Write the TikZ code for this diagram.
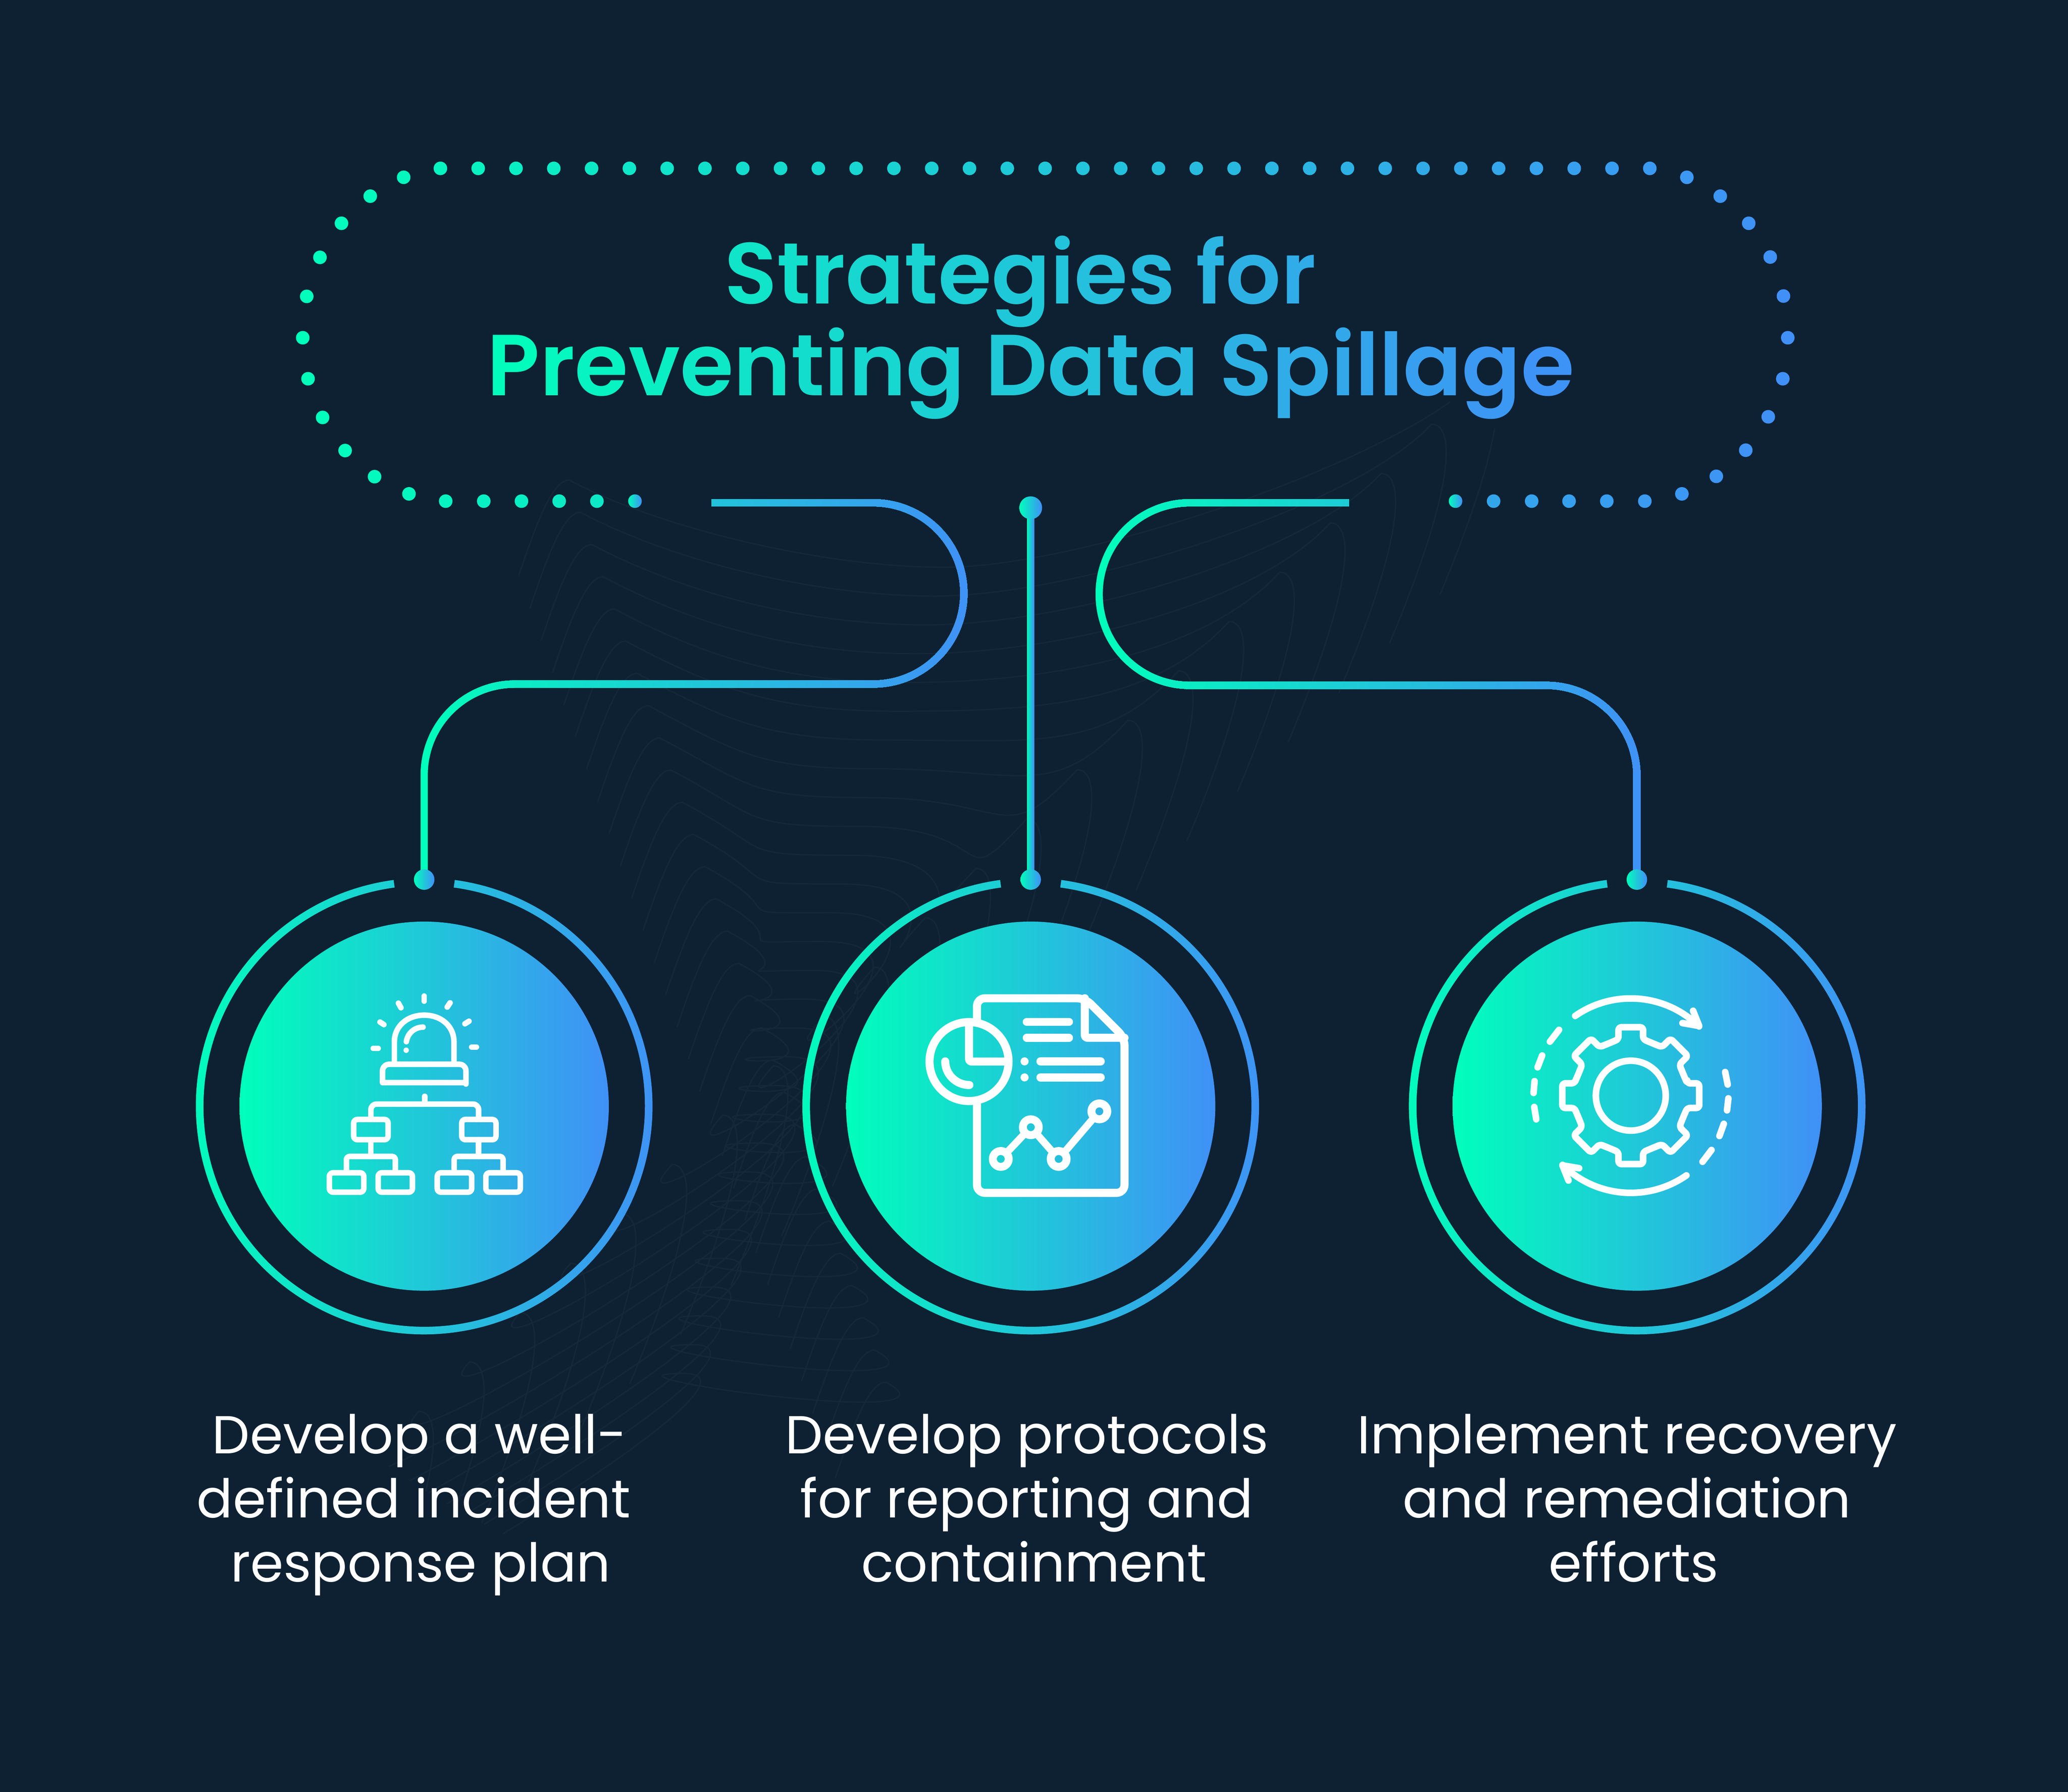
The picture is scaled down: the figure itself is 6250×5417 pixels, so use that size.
\documentclass[tikz,border=0pt]{standalone}
\usepackage{fontspec}
\setmainfont{Poppins}
\newfontfamily\popsb{Poppins SemiBold}
\usetikzlibrary{shapes.geometric}
\definecolor{bgc}{RGB}{14,33,50}
\definecolor{faint}{RGB}{21,40,57}
\definecolor{gA}{RGB}{0,255,187}
\definecolor{gB}{RGB}{64,144,247}
\makeatletter
\newdimen\gpos \newbox\gbA \newbox\gbB \newbox\gbC
\def\gradline#1#2#3{\setbox\gbA\hbox{#3}\edef\gtot{\strip@pt\wd\gbA}\def\tA{#1}\def\tB{#2}\gpos=0pt \gl@#3\@nil\@nil}
\def\gl@#1#2{%
  \ifx#1\@nil\let\gl@next\relax\else
    \setbox\gbA\hbox{#1}%
    \dimen@=\gpos \advance\dimen@ .5\wd\gbA
    \edef\gcur{\strip@pt\dimen@}%
    \pgfmathsetmacro\gpw{100*(\tA+(\tB-\tA)*\gcur/\gtot)}%
    \textcolor{gB!\gpw!gA}{#1}%
    \advance\gpos\wd\gbA
    \ifx#2\@nil\else
      \setbox\gbB\hbox{#2}\setbox\gbC\hbox{#1#2}%
      \dimen@=\wd\gbC \advance\dimen@-\wd\gbA \advance\dimen@-\wd\gbB
      \kern\dimen@ \advance\gpos\dimen@
    \fi
    \def\gl@next{\gl@#2}%
  \fi\gl@next}
\makeatother
% gradient stroke: #1 = left limit, #2 = right limit, #3 = path
\newcommand\gradstroke[3]{%
  \foreach \i in {0,...,64}{%
    \pgfmathsetmacro\xa{\i==0 ? 0 : #1+(#2-#1)/64*\i}%
    \pgfmathsetmacro\pw{100*\i/64}%
    \begin{scope}
      \clip (\xa,0) rectangle (6250,5417);
      \draw[conn,draw=gB!\pw!gA] #3;
    \end{scope}
  }}
\tikzset{
  conn/.style={line width=2.2pt,rounded corners=27.4pt},
  gshade/.style={left color=gA,right color=gB},
  dot/.style={circle,inner sep=0pt,minimum size=4.1pt,draw=none},
  enddot/.style={dot,gshade},
  pin/.style={circle,inner sep=0pt,minimum size=6.2pt,draw=none,gshade},
  disc/.style={circle,inner sep=0pt,minimum size=111.6pt,draw=none,gshade},
  bodytext/.style={text=white,align=center,anchor=base,font=\fontsize{16.15}{19.4}\selectfont},
  icon/.style={draw=white,line cap=round,line join=round},
  faintline/.style={draw=faint,line width=0.4pt},
}
\newcommand\ringat[1]{%
  \begin{scope}[shift={(#1)}]
  \path[gshade,shade] (-97.7:690) arc[start angle=-97.7,end angle=-442.3,radius=690]
    -- (-442.3:667) arc[start angle=-442.3,end angle=-97.7,radius=667] -- cycle;
  \end{scope}}
\begin{document}
\begin{tikzpicture}[x=0.1pt,y=-0.1pt]
\useasboundingbox (0,0) rectangle (6250,5417);
\fill[bgc] (0,0) rectangle (6250,5417);
% faint contour lines
\begin{scope}
\clip (2900,2900) ellipse [x radius=2600, y radius=2050];
\begin{scope}[shift={(1100,1400)},x=0.2551pt,y=-0.0829pt]
\foreach \k in {-2,...,26}{
  \pgfmathsetmacro\lx{270+13.4*\k}\pgfmathsetmacro\ly{297+117.5*\k}
  \pgfmathsetmacro\vx{665-11*\k}\pgfmathsetmacro\vy{590+105*\k}
  \pgfmathsetmacro\rx{1205-60*\k}\pgfmathsetmacro\ry{38+180*\k}
  \draw[faintline] (\lx-60,\ly+350) .. controls (\lx-35,\ly+120) and (\lx-18,\ly) .. (\lx,\ly)
     .. controls (\lx+110,\ly+180) and (\vx-140,\vy) .. (\vx,\vy)
     .. controls (\vx+170,\vy) and (\rx-90,\ry+300) .. (\rx,\ry)
     .. controls (\rx+26,\ry) and (\rx+32,\ry+200) .. (\rx-50,\ry+800);
}
\end{scope}
\end{scope}
% dotted title frame
\foreach \i in {0,...,32}{
  \pgfmathsetmacro\x{1331+114.22*\i}
  \pgfmathsetmacro\pw{(\x-915)/44.88}
  \node[dot,fill=gB!\pw!gA] (top\i) at (\x,509) {};
}
\foreach \x/\y [count=\n] in {1220/536,1119/593,1032/675,967/778,927/896,915/1021,931/1145,975/1262,1043/1362,1132/1441,1236/1493,1347/1515,1462/1515,1576/1515,1690/1515,1804/1515,
  4514/1515,4629/1515,4742/1515,4856/1515,4971/1515,5083/1493,5187/1440,5276/1361,5344/1260,5388/1145,5403/1021,5390/895,5350/777,5285/675,5199/593,5098/536}{
  \pgfmathsetmacro\pw{(\x-915)/44.88}
  \node[dot,fill=gB!\pw!gA] (fr\n) at (\x,\y) {};
}
\node[enddot] (endL) at (1919,1515) {};
\node[enddot] (endR) at (4399,1515) {};
% title
\node[align=center,anchor=base,font=\popsb\fontsize{26.2}{27.7}\selectfont] (title) at (3115,1195)
  {\gradline{0.218}{0.764}{Strategies~for}\kern6.4pt\\\gradline{0}{1}{Preventing~Data~Spillage}};
% connector anchors
\coordinate (lstart) at (2151,1520);
\coordinate (l1) at (2913,1520);
\coordinate (l2) at (2913,2068);
\coordinate (l3) at (1282,2068);
\coordinate (rstart) at (4077,1520);
\coordinate (r1) at (3322,1520);
\coordinate (r2) at (3322,2072);
\coordinate (r3) at (4947,2072);
\coordinate (pinAc) at (1282,2659);
\coordinate (pinBc) at (3115,2659);
\coordinate (pinCc) at (4947,2659);
\coordinate (pinTc) at (3115,1535);
\gradstroke{1271}{2924}{(lstart) -- (l1) -- (l2) -- (l3) -- (pinAc)}
\gradstroke{3104}{3126}{(pinTc) -- (pinBc)}
\gradstroke{3311}{4958}{(rstart) -- (r1) -- (r2) -- (r3) -- (pinCc)}
\node[pin,minimum size=6.9pt] (pinT) at (pinTc) {};
\node[pin] (pinA) at (pinAc) {};
\node[pin] (pinB) at (pinBc) {};
\node[pin] (pinC) at (pinCc) {};
% rings and discs
\coordinate (cA) at (1282,3344);
\coordinate (cB) at (3115,3344);
\coordinate (cC) at (4948,3344);
\ringat{cA}\ringat{cB}\ringat{cC}
\node[disc] (discA) at (cA) {};
\node[disc] (discB) at (cB) {};
\node[disc] (discC) at (cC) {};
% icon 1
\begin{scope}[shift={(900,2900)},x=0.05102pt,y=-0.05102pt,icon,line width=1.68pt]
\draw (749,218)--(749,248);
\draw (596,260)--(611,287);
\draw (902,258)--(885,283);
\draw (487,372)--(510,387);
\draw (1014,367)--(990,382);
\draw (447,528)--(476,528);
\draw (1030,520)--(1058,520);
\draw (572,620)--(572,490) .. controls (572,395) and (650,331) .. (749,331) .. controls (848,331) and (925,395) .. (925,490) -- (925,620);
\draw (643,488) .. controls (650,440) and (690,402) .. (742,402);
\fill[white] (642,539) circle[radius=16];
\draw[rounded corners=2pt] (502,700)--(502,622)--(996,622)--(996,700)[sharp corners]--(996,731)--(502,731)--cycle;
\draw (752,812)--(752,858);
\draw[rounded corners=1.7pt] (433,948)--(433,858)--(1071,858)--(1071,948);
\foreach \xa/\xb/\ya/\yb in {331/535/949/1069,971/1174/949/1069,187/391/1265/1380,476/679/1265/1380,826/1030/1265/1380,1114/1318/1265/1380}
  \draw[rounded corners=1.1pt] (\xa,\ya) rectangle (\xb,\yb);
\draw (433,1069)--(433,1168);
\draw (1071,1069)--(1071,1168);
\draw[rounded corners=1pt] (288,1265)--(288,1168)--(578,1168)--(578,1265);
\draw[rounded corners=1pt] (926,1265)--(926,1168)--(1216,1168)--(1216,1265);
\end{scope}
% icon 2
\begin{scope}[shift={(2700,2900)},x=0.05102pt,y=-0.05102pt,icon,line width=2.45pt]
\draw[rounded corners=2.4pt] (495,372)--(495,231)--(1135,231)--(1369,465)--(1369,1384)--(495,1384)--(495,840);
\draw[rounded corners=0.8pt] (1134,231)--(1134,465)--(1369,465);
\draw (448,606) circle[radius=234];
\draw[rounded corners=0.8pt] (448,373)--(448,606)--(682,606);
\draw (307,605) .. controls (307,680) and (370,745) .. (450,745);
\draw (790,371)--(1040,371);
\draw (790,465)--(1040,465);
\draw (871,605)--(1228,605);
\draw (871,700)--(1228,700);
\fill[white] (777,605) circle[radius=24] (777,700) circle[radius=24];
\tikzset{chartpt/.style={circle,draw=white,line width=2.4pt,inner sep=0pt,minimum size=4.8pt}}
\node[chartpt] (p1) at (636,1183) {};
\node[chartpt] (p2) at (814,995) {};
\node[chartpt] (p3) at (979,1183) {};
\node[chartpt] (p4) at (1220,901) {};
\draw[line width=2.2pt] (p1)--(p2);
\draw[line width=2.2pt] (p2)--(p3);
\draw[line width=2.2pt] (p3)--(p4);
\end{scope}
% icon 3
\begin{scope}[shift={(4550,2900)},x=0.05102pt,y=-0.05102pt,icon,line width=2pt]
\begin{scope}[shift={(742,808)}]
\draw (0,0) circle[radius=207];
\draw[rounded corners=0.9pt] (-12.3:342)
  \foreach \a in {0,45,...,315}{ -- (\a-12.3:342) -- (\a-10.2:412) -- (\a+10.2:412) -- (\a+12.3:342) -- (\a+22.5:336) } -- cycle;
\draw (-124.9:576) arc[start angle=-124.9,end angle=-45.4,radius=576];
\draw (55.1:576) arc[start angle=55.1,end angle=134.6,radius=576];
\end{scope}
\draw (1111,305)--(1147,395)--(1048,378);
\draw (373,1311)--(337,1221)--(436,1238);
\foreach \xa/\ya/\xb/\yb in {317/418/263/488,217/570/190/640,172/722/166/792,170/875/182/948,1220/1130/1167/1200,1293/975/1267/1047,1320/824/1312/895,1301/668/1316/742}
  \draw (\xa,\ya)--(\xb,\yb);
\end{scope}
% labels
\node[bodytext] (labA) at (1250,4782) {\kern3.6pt Develop a well-\\defined incident\\\kern4.2pt response plan};
\node[bodytext] (labB) at (3103,4782) {Develop protocols\\for reporting and\\\kern4.4pt containment};
\node[bodytext] (labC) at (4917,4782) {Implement recovery\\and remediation\\\kern4pt efforts};
\end{tikzpicture}
\end{document}
